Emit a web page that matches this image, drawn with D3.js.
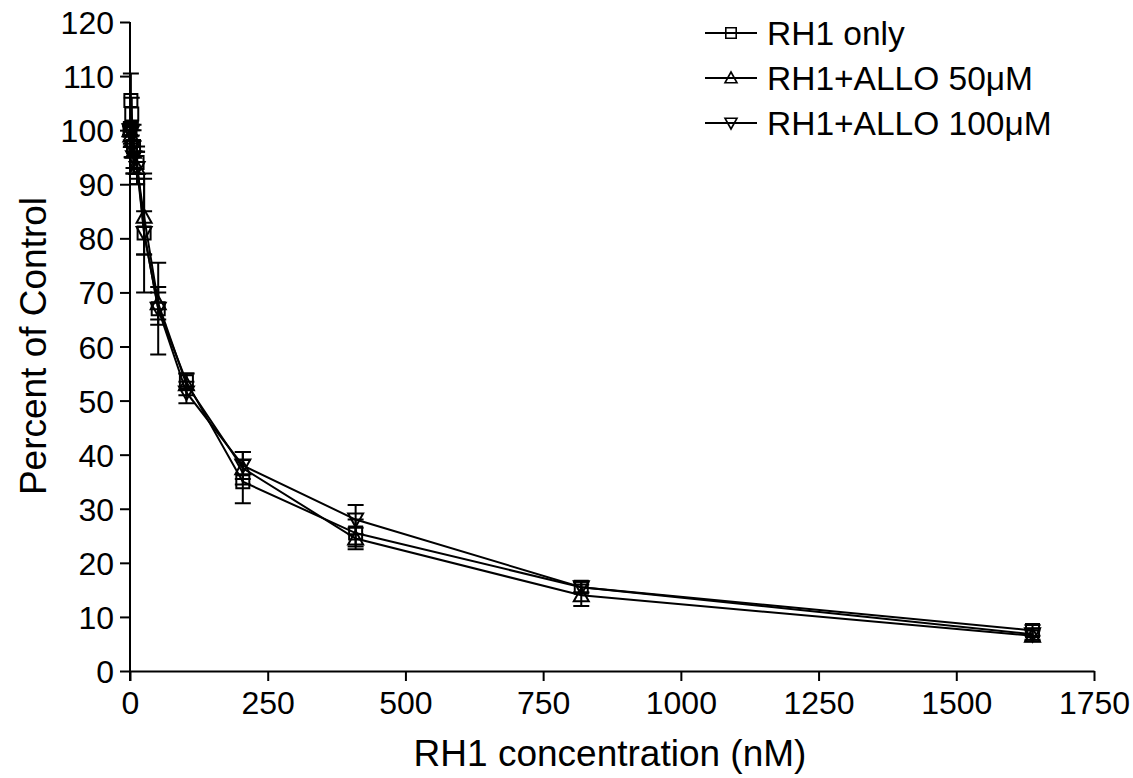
<!DOCTYPE html>
<head>
    <meta charset="utf-8">
    <title>RH1 dose response</title>
    <script src="https://cdn.jsdelivr.net/npm/d3@7/dist/d3.min.js"></script>
    <style>
        body { margin: 0; background: #fff; }
        svg text { font-family: "Liberation Sans", Arial, sans-serif; fill: #000; }
    </style>
</head>
<body>
<svg id="chart" width="1133" height="778"></svg>

<script type="text/javascript">
    // concentrations (nM)
    const conc = [0, 1.6, 3.2, 6.4, 12.8, 25.6, 51.2, 102.4, 204.8, 409.6, 819.2, 1638.4];

    const rh1Only = [100, 105.5, 103, 97, 94, 81, 67, 53.5, 35, 25.5, 15.5, 7.5];
    const rh1OnlyErr = [1, 5, 3, 4, 3, 11, 8.5, 1.5, 4, 2.5, 1, 1];

    const allo50 = [100, 99, 98, 96, 93, 84, 68, 53, 37.5, 24.5, 14, 6.5];
    const allo50Err = [1, 2, 3, 4, 3, 7, 3, 2, 3, 2, 2, 1];

    const allo100 = [100, 99.5, 97, 95, 93, 81, 67, 51.5, 38, 28, 15.5, 6.8];
    const allo100Err = [1, 2, 2, 3, 3, 4, 3, 2, 2.5, 2.7, 1, 1];

    const xTicks = [0, 250, 500, 750, 1000, 1250, 1500, 1750];
    const yTicks = d3.range(0, 121, 10);

    const seriesNames = ["RH1 only", "RH1+ALLO 50\u03bcM", "RH1+ALLO 100\u03bcM"];
    const seriesMarkers = ["square", "up", "down"];

    const series = [
        {name: seriesNames[0], marker: seriesMarkers[0], y: rh1Only, err: rh1OnlyErr},
        {name: seriesNames[1], marker: seriesMarkers[1], y: allo50, err: allo50Err},
        {name: seriesNames[2], marker: seriesMarkers[2], y: allo100, err: allo100Err}
    ];

    const svg = d3.select('#chart');

    const x = d3.scaleLinear().domain([0, 1750]).range([130, 1094]);
    const y = d3.scaleLinear().domain([0, 120]).range([671, 22]);

    /// marker path centred at 0,0
    function markerPath(type) {
        if (type === 'square') return 'M-6.5,-6.5H6.5V6.5H-6.5Z';
        if (type === 'up') return 'M0,-7.5L7.5,6L-7.5,6Z';
        return 'M0,7.5L7.5,-6L-7.5,-6Z';
    }

    /// axes
    const xAxis = svg.append('g')
        .attr('transform', `translate(0, ${y(0)})`)
        .call(d3.axisBottom(x).tickValues(xTicks).tickFormat(d3.format('d'))
            .tickSize(10).tickPadding(6).tickSizeOuter(0));
    const yAxis = svg.append('g')
        .attr('transform', `translate(${x(0)}, 0)`)
        .call(d3.axisLeft(y).tickValues(yTicks).tickFormat(d3.format('d'))
            .tickSize(10).tickPadding(6).tickSizeOuter(0));

    [xAxis, yAxis].forEach(a => {
        a.select('.domain').attr('stroke', '#000').attr('stroke-width', 2);
        a.selectAll('.tick line').attr('stroke', '#000').attr('stroke-width', 2);
        a.selectAll('.tick text').style('font-size', '32px');
    });
    xAxis.selectAll('.tick text').attr('dy', '0.85em');
    yAxis.selectAll('.tick text').attr('dy', '0.36em');
    // y axis runs slightly past the baseline
    yAxis.select('.domain').attr('d', `M0,${y(120)}V${y(0) + 10}`);

    /// axis titles
    svg.append('text')
        .attr('x', 610).attr('y', 766)
        .attr('text-anchor', 'middle')
        .style('font-size', '37px')
        .text('RH1 concentration (nM)');
    svg.append('text')
        .attr('transform', 'translate(46, 346) rotate(-90)')
        .attr('text-anchor', 'middle')
        .style('font-size', '37px')
        .text('Percent of Control');

    /// series
    const line = d3.line().x((d, i) => x(conc[i])).y(d => y(d));

    series.forEach(s => {
        const g = svg.append('g');

        g.append('path')
            .datum(s.y)
            .attr('fill', 'none')
            .attr('stroke', '#000')
            .attr('stroke-width', 2)
            .attr('d', line);

        s.y.forEach((v, i) => {
            const cx = x(conc[i]);
            const top = y(v + s.err[i]);
            const bot = y(v - s.err[i]);
            g.append('path')
                .attr('fill', 'none')
                .attr('stroke', '#000')
                .attr('stroke-width', 2)
                .attr('d', `M${cx},${top}V${bot}M${cx - 8},${top}H${cx + 8}M${cx - 8},${bot}H${cx + 8}`);
        });

        g.selectAll('.marker')
            .data(s.y)
            .join('path')
            .attr('class', 'marker')
            .attr('transform', (d, i) => `translate(${x(conc[i])}, ${y(d)})`)
            .attr('d', markerPath(s.marker))
            .attr('fill', 'none')
            .attr('stroke', '#000')
            .attr('stroke-width', 2);
    });

    /// legend
    const legend = svg.append('g').attr('transform', 'translate(705, 33)');
    series.forEach((s, i) => {
        const row = legend.append('g').attr('transform', `translate(0, ${i * 45})`);
        row.append('line')
            .attr('x1', 0).attr('x2', 52).attr('y1', 0).attr('y2', 0)
            .attr('stroke', '#000').attr('stroke-width', 2);
        row.append('path')
            .attr('transform', 'translate(26, 0) scale(0.8)')
            .attr('d', markerPath(s.marker))
            .attr('fill', 'none')
            .attr('stroke', '#000')
            .attr('stroke-width', 2);
        row.append('text')
            .attr('x', 62).attr('y', 0).attr('dy', '0.36em')
            .style('font-size', '33.5px')
            .text(s.name);
    });
</script>
</body>
